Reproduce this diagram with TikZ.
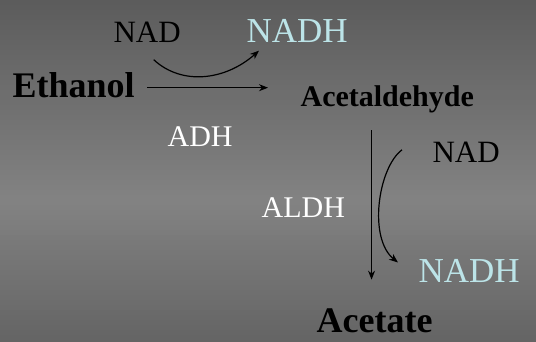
\documentclass[tikz,border=0pt]{standalone}
\usepackage{fontspec}
\setmainfont{Liberation Serif}
\usetikzlibrary{arrows.meta,calc}
\definecolor{bgdark}{RGB}{92,92,92}
\definecolor{bglight}{RGB}{130,130,130}
\definecolor{bgbot}{RGB}{100,100,100}
\definecolor{nadhcol}{RGB}{188,228,232}
\tikzstyle{mol}=[inner sep=0pt,
                 anchor=base west,
                 font=\bfseries\fontsize{36pt}{40pt}\selectfont]
\tikzstyle{co}=[inner sep=0pt,
                anchor=base west,
                font=\fontsize{31pt}{35pt}\selectfont]
\tikzstyle{cored}=[inner sep=0pt,
                   anchor=base west,
                   text=nadhcol,
                   font=\fontsize{35pt}{39pt}\selectfont]
\tikzstyle{enz}=[inner sep=0pt,
                 anchor=base west,
                 text=white,
                 font=\fontsize{30pt}{34pt}\selectfont]

\begin{document}
\begin{tikzpicture}[x=1pt,y=-1pt,>={Stealth[length=9pt,width=7pt]},line width=1.2pt]
\useasboundingbox (0,0) rectangle (536,341);

% background (stripes, lighter towards the middle)
\begin{scope}
\clip (0,0) rectangle (536,341);
\foreach \i in {0,...,39}{
  \pgfmathsetmacro\p{100*\i/39}
  \fill[bglight!\p!bgdark] (0,\i*5) rectangle (536,\i*5+5.5);
}
\foreach \i in {0,...,28}{
  \pgfmathsetmacro\p{100*\i/28}
  \fill[bgbot!\p!bglight] (0,200+\i*5) rectangle (536,200+\i*5+5.5);
}
\end{scope}

% molecules
\node[mol] (eth) at (12,97) {Ethanol};
\node[mol,font=\bfseries\fontsize{30pt}{34pt}\selectfont] (acald) at (300,106) {Acetaldehyde};
\node[mol] (acet) at (316,332) {Acetate};

% cofactors
\node[co] (nad1) at (113,42) {NAD};
\node[cored] (nadh1) at (246,42) {NADH};
\node[co] (nad2) at (432,162) {NAD};
\node[cored] (nadh2) at (418,282) {NADH};

% enzymes
\node[enz] (adh) at (167,146) {ADH};
\node[enz] (aldh) at (261,217) {ALDH};

% main reactions
\draw[->] ($(eth.east)+(12,3)$) -- ($(acald.west |- eth.east)+(-32,3)$);
\draw[->] ($(acald.south -| acet.north)+(-3,17)$) -- ($(acet.north)+(-3,-28)$);

% NAD -> NADH
\draw[->] ($(nad1.south)+(6.5,17)$) .. controls +(28,26) and +(-34,30) .. ($(nadh1.south west)+(13,8)$);
\draw[->] ($(nad2.west)+(-30,-2)$) .. controls +(-24,18) and +(-30,-24) .. ($(nadh2.west)+(-20,-8)$);
\end{tikzpicture}
\end{document}
